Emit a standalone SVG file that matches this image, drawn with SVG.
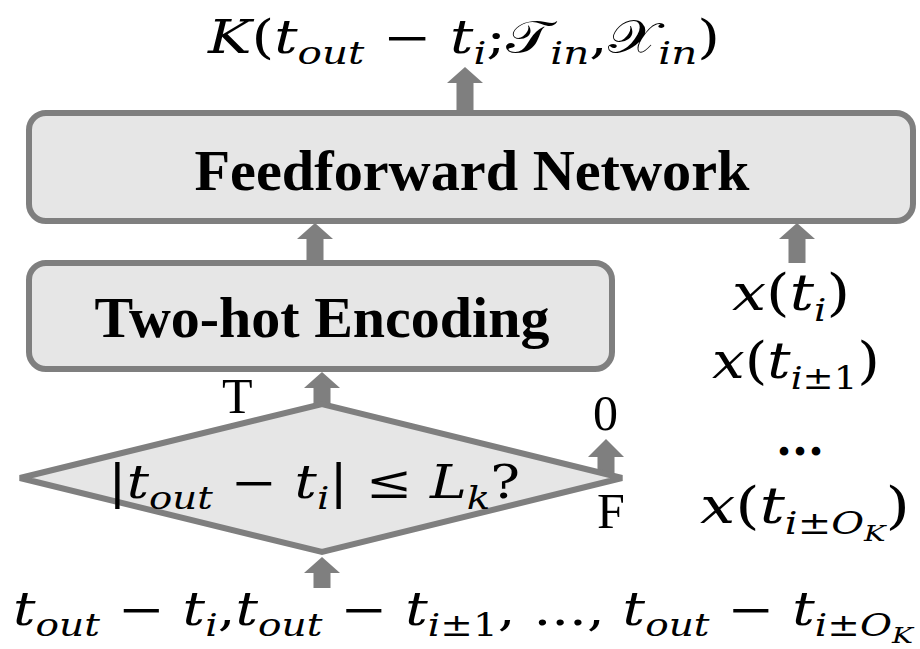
<svg xmlns="http://www.w3.org/2000/svg" width="920" height="649" viewBox="0 0 920 649">
  <style>
    .box { fill: #e6e6e6; stroke: #7f7f7f; stroke-width: 6; }
    .arrow { fill: #7f7f7f; stroke: none; }
    .title { font-family: "Liberation Serif", "Times New Roman", serif; font-weight: bold; font-size: 57px; fill: #000; }
    .lbl { font-family: "Liberation Serif", "Times New Roman", serif; font-size: 50px; fill: #000; }
    .m { font-family: "DejaVu Serif", "Liberation Serif", serif; font-size: 46px; fill: #000; }
    .big { font-size: 50px; }
    .i { font-style: italic; }
    .s { font-size: 32px; }
    .ss { font-size: 23px; }
    .scr { font-family: "DejaVu Sans", "Liberation Serif", serif; font-style: normal; }
  </style>
  <rect width="920" height="649" fill="#ffffff"/>

  <!-- connectors (block arrows) -->
  <g id="connectors">
    <path class="arrow" d="M456.5,113 V83 H447 L465,67 L483,83 H473.5 V113 Z"/>
    <path class="arrow" d="M306.5,263 V239 H297 L315,223 L333,239 H323.5 V263 Z"/>
    <path class="arrow" d="M788.5,263 V239 H779 L797,223 L815,239 H805.5 V263 Z"/>
    <path class="arrow" d="M313.5,405 V388 H304 L322,372 L340,388 H330.5 V405 Z"/>
    <path class="arrow" d="M597.5,478 V457 H588 L606,439 L624,457 H614.5 V478 Z"/>
    <path class="arrow" d="M313.5,588 V573 H304 L322,557 L340,573 H330.5 V588 Z"/>
  </g>

  <!-- output kernel expression -->
  <g id="output">
    <text class="m" x="208" y="53" textLength="512" lengthAdjust="spacingAndGlyphs"><tspan class="i">K</tspan>(<tspan class="i">t</tspan><tspan class="i s" dy="11">out</tspan><tspan dy="-11"> − </tspan><tspan class="i">t</tspan><tspan class="i s" dy="11">i</tspan><tspan dy="-11">;</tspan><tspan class="scr">𝒯</tspan><tspan class="i s" dy="11">in</tspan><tspan dy="-11">,</tspan><tspan class="scr">𝒳</tspan><tspan class="i s" dy="11">in</tspan><tspan dy="-11">)</tspan></text>
  </g>

  <g id="feedforward">
    <rect class="box" x="29" y="113" width="884" height="108" rx="17"/>
    <text class="title" x="472" y="190" text-anchor="middle" textLength="555" lengthAdjust="spacingAndGlyphs">Feedforward Network</text>
  </g>

  <g id="two-hot">
    <rect class="box" x="29" y="263" width="583" height="106" rx="17"/>
    <text class="title" x="322" y="337" text-anchor="middle" textLength="455" lengthAdjust="spacingAndGlyphs">Two-hot Encoding</text>
  </g>

  <g id="inputs-x">
    <text class="m big" x="732" y="310" textLength="118" lengthAdjust="spacingAndGlyphs"><tspan class="i">x</tspan>(<tspan class="i">t</tspan><tspan class="i s" dy="11">i</tspan><tspan dy="-11">)</tspan></text>
    <text class="m big" x="712" y="378" textLength="168" lengthAdjust="spacingAndGlyphs"><tspan class="i">x</tspan>(<tspan class="i">t</tspan><tspan class="s" dy="11"><tspan class="i">i</tspan>±1</tspan><tspan dy="-11">)</tspan></text>
    <text class="m" x="800" y="455" text-anchor="middle" font-weight="bold" font-size="40">...</text>
    <text class="m big" x="700" y="523" textLength="210" lengthAdjust="spacingAndGlyphs"><tspan class="i">x</tspan>(<tspan class="i">t</tspan><tspan class="s" dy="11"><tspan class="i">i</tspan>±<tspan class="i">O</tspan></tspan><tspan class="i ss" dy="7">K</tspan><tspan dy="-18">)</tspan></text>
  </g>

  <g id="condition">
    <polygon class="box" points="20,478 322,404 622,478 322,552"/>
    <text class="m" x="108" y="498" textLength="412" lengthAdjust="spacingAndGlyphs">|<tspan class="i">t</tspan><tspan class="i s" dy="11">out</tspan><tspan dy="-11">  − </tspan><tspan class="i">t</tspan><tspan class="i s" dy="11">i</tspan><tspan dy="-11">| ≤ </tspan><tspan class="i">L</tspan><tspan class="i s" dy="11">k</tspan><tspan dy="-11">?</tspan></text>
    <text class="lbl" x="222" y="413" font-size="52">T</text>
    <text class="lbl" x="593" y="430">0</text>
    <text class="lbl" x="597" y="528">F</text>
  </g>

  <g id="time-offsets">
    <text class="m" x="13" y="625" textLength="900" lengthAdjust="spacingAndGlyphs"><tspan class="i">t</tspan><tspan class="i s" dy="11">out</tspan><tspan dy="-11"> − </tspan><tspan class="i">t</tspan><tspan class="i s" dy="11">i</tspan><tspan dy="-11">,</tspan><tspan class="i">t</tspan><tspan class="i s" dy="11">out</tspan><tspan dy="-11">  − </tspan><tspan class="i">t</tspan><tspan class="s" dy="11"><tspan class="i">i</tspan>±1</tspan><tspan dy="-11">, ..., </tspan><tspan class="i">t</tspan><tspan class="i s" dy="11">out</tspan><tspan dy="-11"> − </tspan><tspan class="i">t</tspan><tspan class="s" dy="11"><tspan class="i">i</tspan>±<tspan class="i">O</tspan></tspan><tspan class="i ss" dy="7">K</tspan></text>
  </g>
</svg>
